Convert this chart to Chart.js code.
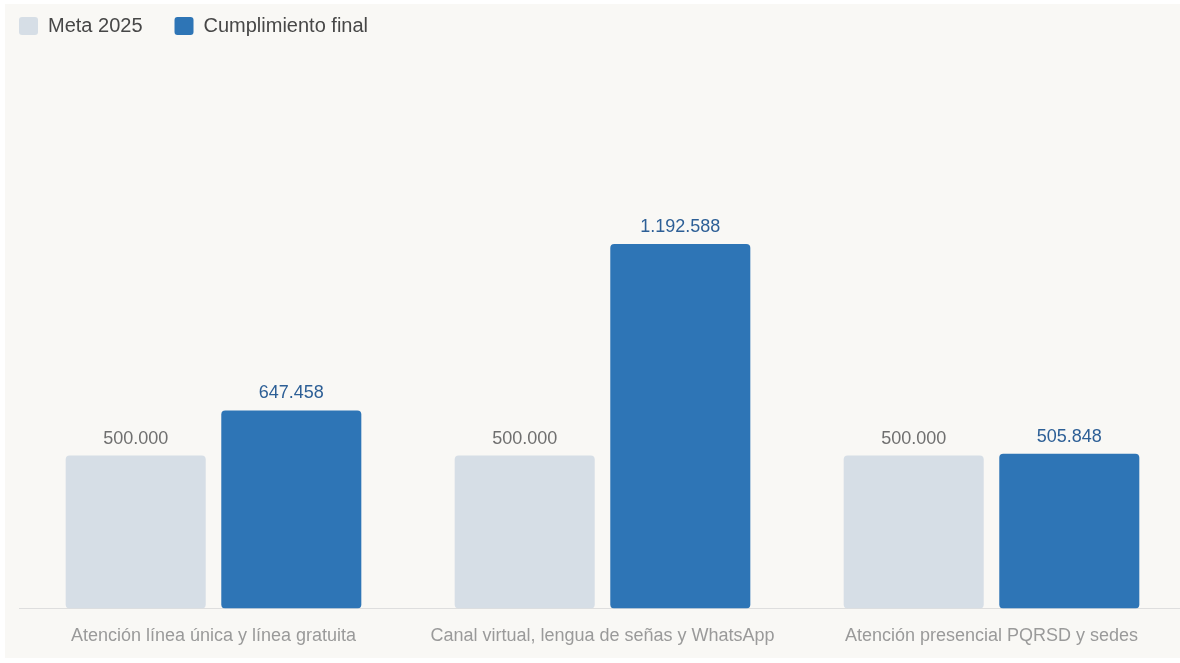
<!DOCTYPE html>
<html>
<head>
<meta charset="utf-8">
<script src="https://cdn.jsdelivr.net/npm/chart.js@4.4.1/dist/chart.umd.min.js"></script>
<style>
  html, body { margin: 0; padding: 0; background: #ffffff; width: 1180px; height: 663px; overflow: hidden; }
  #frame { position: absolute; left: 5px; top: 4px; width: 1175px; height: 654px; background: #f9f8f5; overflow: hidden; }
  #c { position: absolute; left: -18px; top: -20px; }
</style>
</head>
<body>
<div id="frame"><canvas id="c" width="1213" height="680"></canvas></div>
<script>
const categories = [
  "Atención línea única y línea gratuita",
  "Canal virtual, lengua de señas y WhatsApp",
  "Atención presencial PQRSD y sedes"
];
const seriesNames = ["Meta 2025", "Cumplimiento final"];
const metaValues = [500000, 500000, 500000];
const cumplimientoValues = [647458, 1192588, 505848];
const yMax = 1840000;

const FONT = '"Liberation Sans", Arial, sans-serif';

function fmt(v) {
  return String(Math.round(v)).replace(/\B(?=(\d{3})+(?!\d))/g, ".");
}

const valueLabels = {
  id: 'valueLabels',
  afterDatasetsDraw(chart) {
    const ctx = chart.ctx;
    ctx.save();
    ctx.font = '18px ' + FONT;
    ctx.textAlign = 'center';
    ctx.textBaseline = 'middle';
    chart.data.datasets.forEach((ds, i) => {
      const meta = chart.getDatasetMeta(i);
      ctx.fillStyle = ds.labelColor;
      meta.data.forEach((el, j) => {
        ctx.fillText(fmt(ds.data[j]), el.x, el.y - 17);
      });
    });
    ctx.restore();
  }
};

new Chart(document.getElementById('c'), {
  type: 'bar',
  data: {
    labels: categories,
    datasets: [
      {
        label: seriesNames[0],
        data: metaValues,
        backgroundColor: '#d6dee6',
        borderRadius: 4,
        borderSkipped: false,
        labelColor: '#6f6f6f'
      },
      {
        label: seriesNames[1],
        data: cumplimientoValues,
        backgroundColor: '#2e75b6',
        borderRadius: 4,
        borderSkipped: false,
        labelColor: '#2d5f96'
      }
    ]
  },
  options: {
    responsive: false,
    animation: false,
    devicePixelRatio: 1,
    layout: { padding: { left: 0, right: 14, top: 0, bottom: 0 } },
    plugins: {
      legend: {
        position: 'top',
        align: 'start',
        labels: {
          boxWidth: 19,
          boxHeight: 18,
          padding: 32,
          color: '#474747',
          font: { family: FONT, size: 20 },
          useBorderRadius: true,
          borderRadius: 3
        }
      },
      tooltip: { enabled: false }
    },
    scales: {
      x: {
        grid: { display: false, drawTicks: false },
        border: { display: true, color: '#dedede', width: 1 },
        ticks: {
          color: '#9a9a9a',
          font: { family: FONT, size: 18 },
          padding: 17,
          autoSkip: false,
          maxRotation: 0
        },
        categoryPercentage: 0.8,
        barPercentage: 0.9
      },
      y: {
        min: 0,
        max: yMax,
        grid: { display: false, drawTicks: false },
        border: { display: false },
        ticks: { display: false },
        afterFit(scale) { scale.width = 32; }
      }
    }
  },
  plugins: [valueLabels]
});
</script>
</body>
</html>
